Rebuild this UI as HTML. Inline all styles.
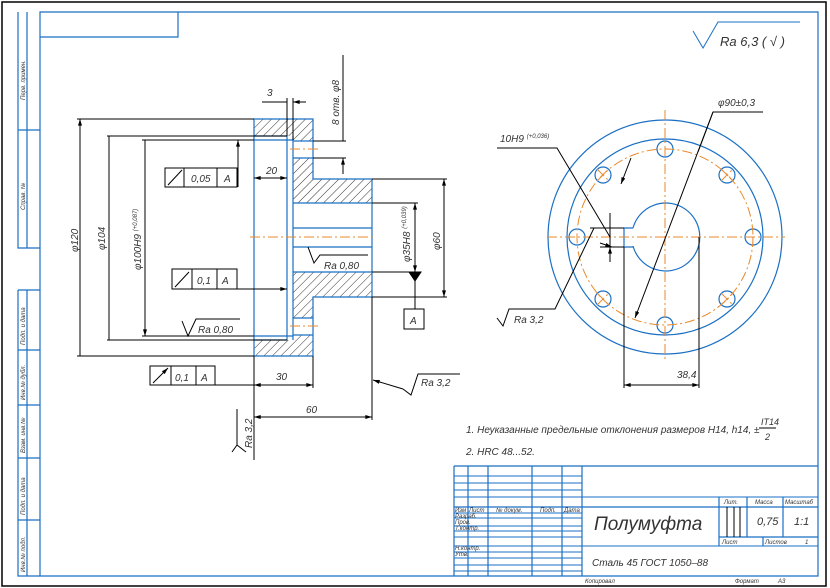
<!DOCTYPE html>
<html><head><meta charset="utf-8"><style>
html,body{margin:0;padding:0;background:#fff}
svg{display:block}
text{font-family:"Liberation Sans Narrow","Liberation Sans",sans-serif;font-style:italic;fill:#333}
.b{stroke:#1a6fc4;fill:none;stroke-width:1.2}
.k{stroke:#000;fill:none;stroke-width:1}
.o{stroke:#e8892a;fill:none;stroke-width:1;stroke-dasharray:10 3 2 3}
</style></head><body>
<svg width="830" height="588" viewBox="0 0 830 588" xmlns="http://www.w3.org/2000/svg">
<defs>
<pattern id="h" patternUnits="userSpaceOnUse" width="6" height="6" patternTransform="rotate(45)">
<line x1="0" y1="0" x2="0" y2="6" stroke="#000" stroke-width="0.8"/>
</pattern>
<marker id="a" viewBox="0 0 10 6" refX="10" refY="3" markerWidth="8" markerHeight="4" orient="auto-start-reverse" markerUnits="userSpaceOnUse"><path d="M0,0L10,3L0,6z" fill="#000"/></marker>
</defs>
<rect x="2" y="2" width="824" height="584" fill="none" stroke="#000" stroke-width="1.5"/>
<path class="b" d="M40,12H818V576H40Z M40,37H178V12"/>
<path class="b" d="M18,12V130H40 M27,12V130 M18,130V248H40 M27,130V248 M18,290H40 M18,290V576H40 M27,290V576 M18,350H40 M18,405H40 M18,458H40 M18,520H40"/>
<g font-size="6">
<text transform="translate(25,100) rotate(-90)">Перв. примен.</text>
<text transform="translate(25,210) rotate(-90)">Справ. №</text>
<text transform="translate(25,345) rotate(-90)">Подп. и дата</text>
<text transform="translate(25,400) rotate(-90)">Инв.№ дубл.</text>
<text transform="translate(25,453) rotate(-90)">Взам. инв.№</text>
<text transform="translate(25,515) rotate(-90)">Подп. и дата</text>
<text transform="translate(25,572) rotate(-90)">Инв.№ подл.</text>
</g>
<g class="b">
<path d="M454,466H818 M454,466V576 M468,466V576 M488,466V576 M532,466V576 M562,466V576 M582,466V576"/>
<path d="M454,476H582 M454,483H582 M454,490H582 M454,497H818 M454,513H582 M454,518H582 M454,526H582 M454,531H582 M454,537H582 M454,546H818 M454,552H582 M454,558H582 M454,565H582 M454,571H582" stroke-width="1"/>
<path d="M454,507H818 M719,497V546 M747,497V537 M783,497V537 M719,537H818 M763,537V546" stroke-width="1.2"/>
</g>
<path class="k" d="M727,507V537 M734,507V537 M740,507V537"/>
<g font-size="6">
<text x="455" y="512">Изм</text><text x="469" y="512">Лист</text><text x="496" y="512">№ докум.</text><text x="540" y="512">Подп.</text><text x="564" y="512">Дата</text>
<text x="455" y="518">Разраб.</text><text x="455" y="524">Пров.</text><text x="455" y="530">Т.контр.</text><text x="455" y="550">Н.контр.</text><text x="455" y="556">Утв.</text>
<text x="724" y="504">Лит.</text><text x="755" y="504">Масса</text><text x="785" y="504">Масштаб</text>
<text x="722" y="544">Лист</text><text x="765" y="544">Листов</text><text x="805" y="544">1</text>
<text x="585" y="583">Копировал</text><text x="735" y="583">Формат</text><text x="778" y="583">А3</text>
</g>
<text x="757" y="525" font-size="11">0,75</text><text x="794" y="525" font-size="11">1:1</text>
<text x="594" y="530" font-size="19">Полумуфта</text>
<text x="592" y="566" font-size="10">Сталь 45 ГОСТ 1050–88</text>
<text x="466" y="433" font-size="10">1. Неуказанные предельные отклонения размеров H14, h14, ±</text>
<text x="761" y="425" font-size="9">IT14</text><path class="k" d="M759,428H776"/><text x="765" y="440" font-size="9">2</text>
<text x="466" y="455" font-size="10">2. HRC 48...52.</text>
<path d="M693,31L703,48L718,22H800" fill="none" stroke="#1a6fc4" stroke-width="1"/>
<text x="720" y="46" font-size="13">Ra  6,3  ( √ )</text>

<g fill="url(#h)" stroke="none">
<rect x="254" y="119" width="59" height="17"/>
<rect x="293" y="136" width="20" height="5"/>
<rect x="293" y="158" width="20" height="21"/>
<rect x="293" y="179" width="79" height="24"/>
<rect x="293" y="272" width="79" height="25"/>
<rect x="293" y="297" width="20" height="21"/>
<rect x="293" y="335" width="20" height="5"/>
<rect x="254" y="340" width="59" height="16"/>
</g>
<g class="b">
<path d="M254,119H313V179H372V297H313V356H254Z"/>
<path d="M254,136H287V340H254 M254,140H293V336H254 M293,136V340 M293,141H313 M293,158H313 M293,318H313 M293,335H313 M293,203H372 M293,272H372 M293,228H372 M293,247H372"/>
</g>
<path class="o" d="M250,237H376 M290,149H318 M290,326H318"/>
<g class="k">
<path d="M77,119H254 M77,356H254 M107,136H287 M107,340H287 M142,140H254 M142,336H254"/>
<path d="M80,119V356 M109,136V340 M145,140V336" marker-start="url(#a)" marker-end="url(#a)"/>
<path d="M238,187V140" marker-end="url(#a)"/>
<path d="M254,178H287" marker-start="url(#a)" marker-end="url(#a)"/>
<path d="M237,289H287" marker-end="url(#a)"/>
<path d="M372,203H418 M372,272H418 M372,179H447 M372,297H447"/>
<path d="M415,203V272" marker-start="url(#a)" marker-end="url(#a)"/>
<path d="M444,179V297" marker-start="url(#a)" marker-end="url(#a)"/>
<path d="M415,272V309"/><path d="M409,272H421L415,281Z" fill="#000"/>
<rect x="404" y="309" width="20" height="20"/>
<path d="M313,141H346 M313,158H346 M343,55V141 M343,158V172"/>
<path d="M343,125V141 M343,174V158" marker-end="url(#a)"/>
<path d="M287,98V136 M293,98V140 M262,102H287 M306,102H293"/>
<path d="M270,102H287 M306,102H293" marker-end="url(#a)"/>
<rect x="165" y="168" width="72" height="19"/><path d="M184,168V187 M217,168V187"/>
<rect x="172" y="269" width="65" height="20"/><path d="M192,269V289 M217,269V289"/>
<rect x="150" y="366" width="65" height="19"/><path d="M171,366V385 M196,366V385"/>
<path d="M215,385H254 M313,356V388 M254,356V460 M372,297V420"/>
<path d="M254,385H313" marker-start="url(#a)" marker-end="url(#a)"/>
<path d="M254,417H372" marker-start="url(#a)" marker-end="url(#a)"/>
<path d="M182,321L188,336L196,319H240 M308,247L314,263L320,255H368 M237,409V445L246,452 M237,445L232,452"/>
<path d="M403,389L373,380" marker-end="url(#a)"/>
<path d="M403,389L411,395L418,374H460"/>
<path d="M168,185L182,170 M175,287L189,272 M153,383L168,368" marker-end="url(#a)"/>
</g>
<g font-size="10">
<text x="191" y="182">0,05</text><text x="224" y="182">A</text>
<text x="197" y="284">0,1</text><text x="222" y="284">A</text>
<text x="175" y="381">0,1</text><text x="201" y="381">A</text>
<text x="410" y="324">A</text>
<text x="266" y="174">20</text><text x="267" y="96">3</text>
<text x="276" y="380">30</text><text x="306" y="413">60</text>
<text x="198" y="333">Ra 0,80</text><text x="324" y="269">Ra 0,80</text>
<text x="421" y="386">Ra 3,2</text>
<text transform="translate(78,252) rotate(-90)">φ120</text>
<text transform="translate(105,250) rotate(-90)">φ104</text>
<text transform="translate(141,270) rotate(-90)">φ100H9 <tspan font-size="6" dy="-4">(+0,087)</tspan></text>
<text transform="translate(410,262) rotate(-90)">φ35H8 <tspan font-size="6" dy="-4">(+0,039)</tspan></text>
<text transform="translate(440,250) rotate(-90)">φ60</text>
<text transform="translate(339,125) rotate(-90)">8 отв. φ8</text>
<text transform="translate(252,448) rotate(-90)">Ra 3,2</text>
</g>

<g class="b">
<circle cx="665" cy="237" r="117"/>
<circle cx="665" cy="237" r="98"/>
<circle cx="665" cy="149" r="8"/><circle cx="665" cy="325" r="8"/>
<circle cx="577" cy="237" r="8"/><circle cx="753" cy="237" r="8"/>
<circle cx="603" cy="175" r="8"/><circle cx="727" cy="175" r="8"/>
<circle cx="603" cy="299" r="8"/><circle cx="727" cy="299" r="8"/>
<path d="M633,228A34,34 0 1 1 633,246 M633,228H624V247H633"/>
</g>
<g class="o" stroke-dasharray="none">
<path d="M597,181L609,169M597,169L609,181 M721,181L733,169M721,169L733,181 M597,305L609,293M597,293L609,305 M721,305L733,293M721,293L733,305"/>
</g>
<circle class="o" cx="665" cy="237" r="88"/>
<path class="o" d="M547,237H785 M665,110V362"/>
<g class="k">
<path d="M624,247V388 M699,237V388"/>
<path d="M624,385H699" marker-start="url(#a)" marker-end="url(#a)"/>
<path d="M763,112H713L635,318" marker-end="url(#a)"/>
<path d="M698,152L713,112"/>
<path d="M631,158L621,184" marker-end="url(#a)"/>
<path d="M497,148H557L610,237 M590,228H624 M600,247H624 M610,215V258"/>
<path d="M610,213V228 M610,262V247" marker-end="url(#a)"/>
<path d="M600,243L612,247" marker-end="url(#a)"/>
<path d="M497,318L503,326L509,309H555L594,228"/>
</g>
<text x="500" y="142" font-size="10">10H9 <tspan font-size="6" dy="-4">(+0,036)</tspan></text>
<text x="718" y="106" font-size="10">φ90±0,3</text>
<text x="677" y="378" font-size="10">38,4</text>
<text x="514" y="323" font-size="10">Ra 3,2</text>
</svg>
</body></html>
